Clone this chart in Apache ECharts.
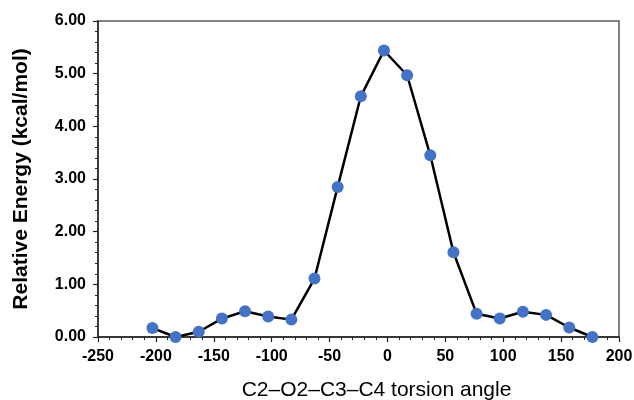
<!DOCTYPE html>
<html>
<head>
<meta charset="utf-8">
<script src="https://cdn.jsdelivr.net/npm/echarts@6/dist/echarts.min.js"></script>
<style>
  html, body { margin: 0; padding: 0; background: #fff; }
  #main { width: 634px; height: 400px; }
</style>
</head>
<body>
<div id="main"></div>
<script>
    // torsion angle (deg) and relative energy (kcal/mol)
    var angles = [-203, -183, -163, -143, -123, -103, -83, -63, -43, -23, -3, 17, 37, 57, 77, 97, 117, 137, 157, 177];
    var energy = [0.17, 0.00, 0.10, 0.35, 0.49, 0.39, 0.33, 1.11, 2.85, 4.57, 5.44, 4.97, 3.45, 1.61, 0.44, 0.35, 0.48, 0.42, 0.18, 0.00];

    var points = angles.map(function (a, i) { return [a, energy[i]]; });

    var myChart = echarts.init(document.getElementById('main'));
    var font = '"Liberation Sans", Arial, sans-serif';
    var option = {
        animation: false,
        grid: {
            left: 98,
            right: 15,
            top: 21,
            bottom: 63,
            outerBoundsMode: 'none',
            containLabel: false,
            show: true,
            borderColor: '#5a5a5a',
            borderWidth: 1.5
        },
        xAxis: {
            type: 'value',
            min: -250,
            max: 200,
            interval: 50,
            name: 'C2\u2013O2\u2013C3\u2013C4 torsion angle',
            nameLocation: 'middle',
            nameGap: 43,
            nameTextStyle: { fontFamily: font, fontSize: 21, color: '#000', padding: [0, 0, 0, 36] },
            axisLine: { onZero: false, lineStyle: { color: '#222', width: 1.5 } },
            axisTick: { show: true, inside: false, length: 5, lineStyle: { color: '#222', width: 1.2 } },
            minorTick: { show: true, splitNumber: 5, length: 3, lineStyle: { color: '#222', width: 1 } },
            axisLabel: { fontFamily: font, fontSize: 16, fontWeight: 'bold', color: '#000', margin: 12 },
            splitLine: { show: false }
        },
        yAxis: {
            type: 'value',
            min: 0,
            max: 6,
            interval: 1,
            name: 'Relative Energy (kcal/mol)',
            nameLocation: 'middle',
            nameGap: 66,
            nameTextStyle: { fontFamily: font, fontSize: 21, fontWeight: 'bold', color: '#000' },
            axisLine: { show: true, onZero: false, lineStyle: { color: '#222', width: 1.5 } },
            axisTick: { show: true, inside: false, length: 5, lineStyle: { color: '#222', width: 1.2 } },
            minorTick: { show: true, splitNumber: 5, length: 3, lineStyle: { color: '#222', width: 1 } },
            axisLabel: {
                fontFamily: font, fontSize: 16, fontWeight: 'bold', color: '#000', margin: 12,
                formatter: function (v) { return v.toFixed(2); }
            },
            splitLine: { show: false }
        },
        series: [{
            type: 'line',
            data: points,
            symbol: 'circle',
            symbolSize: 12,
            lineStyle: { color: '#000', width: 2.5 },
            itemStyle: { color: '#4472C4' }
        }]
    };
    myChart.setOption(option);
</script>
</body>
</html>
